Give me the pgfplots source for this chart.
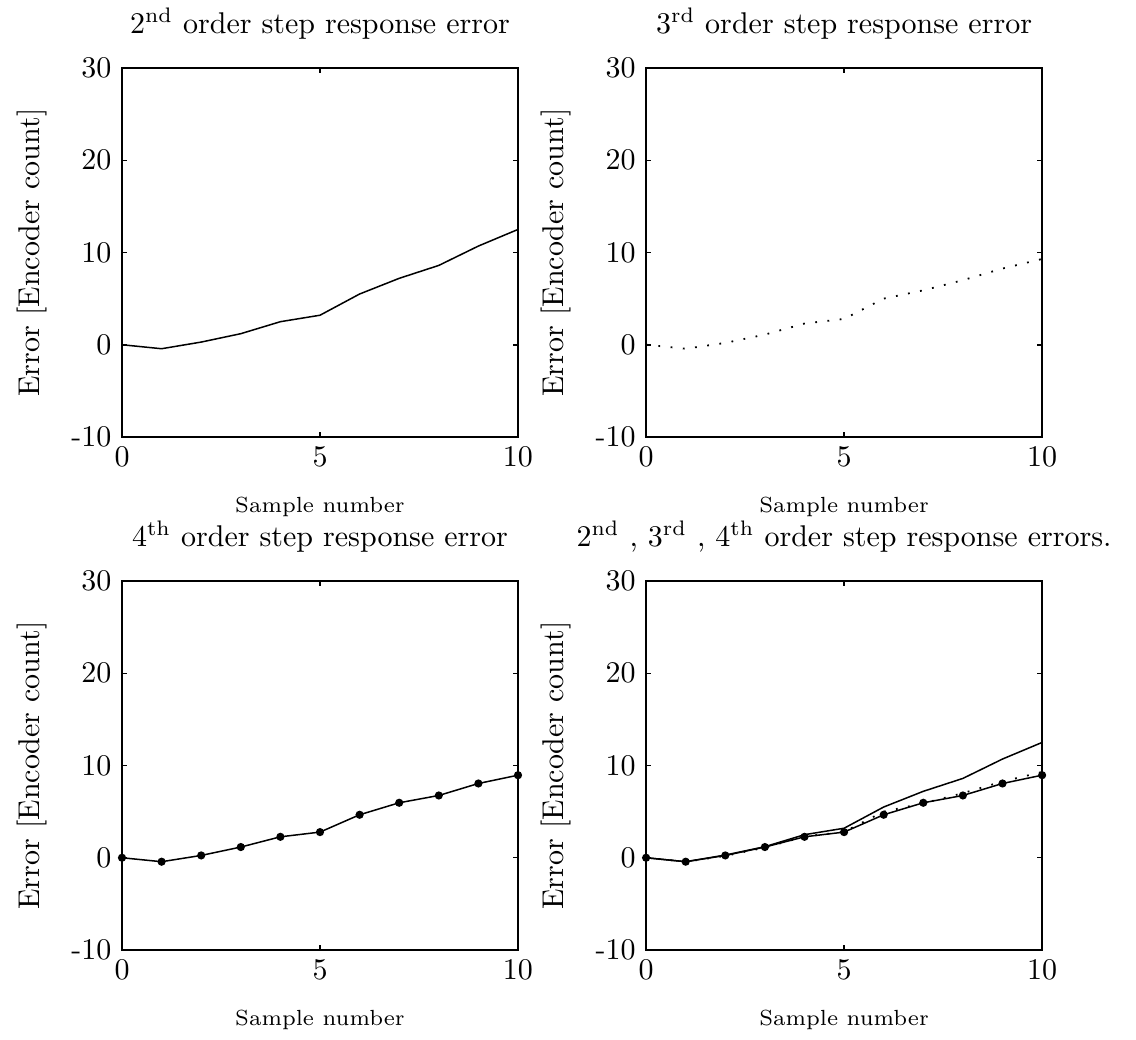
\documentclass[border=0pt]{standalone}
\usepackage{pgfplots}
\pgfplotsset{compat=1.18}

\pgfplotstableread{
x  y
0  0.00
1  -0.43
2  0.29
3  1.20
4  2.50
5  3.20
6  5.50
7  7.20
8  8.60
9  10.70
10 12.50
}\secondorder

\pgfplotstableread{
x  y
0  0.00
1  -0.43
2  0.20
3  1.10
4  2.30
5  2.80
6  5.00
7  5.90
8  7.00
9  8.26
10 9.30
}\thirdorder

\pgfplotstableread{
x  y
0  0.00
1  -0.43
2  0.25
3  1.16
4  2.27
5  2.78
6  4.66
7  5.96
8  6.75
9  8.05
10 8.95
}\fourthorder

\pgfplotsset{
  errstyle/.style={
    scale only axis, width=132pt, height=123pt,
    xmin=0, xmax=10, ymin=-10, ymax=30,
    xtick={0,5,10},
    ytick={-10,0,10,20,30}, yticklabels={-10,0,10,20,30},
    tick align=inside, major tick length=1.6pt,
    axis line style={line width=0.7pt},
    every tick/.style={line width=0.5pt, black},
    xlabel={Sample number},
    xlabel style={font=\fontsize{7.3}{9}\selectfont, at={(axis description cs:0.5,-0.19)}, anchor=center},
    ylabel={Error [Encoder count]},
    ylabel style={at={(axis description cs:-0.227,0.5)}, anchor=center, rotate=0},
    every axis title shift=0pt,
    title style={at={(axis description cs:0.5,1)}, anchor=south, inner sep=0pt, yshift=9.3pt},
  },
  solidline/.style={black, line width=0.5pt, mark=none},
  dotline/.style={black, line width=0.6pt, dash pattern=on 0.6pt off 3.5pt, mark=none},
  markline/.style={black, line width=0.5pt, mark=*, mark size=1.1pt},
}

\begin{document}
\begin{tikzpicture}
\begin{axis}[errstyle, at={(0pt,0pt)}, anchor=north west,
  title={2\textsuperscript{nd} order step response error}]
\addplot[solidline] table[x=x,y=y] {\secondorder};
\end{axis}

\begin{axis}[errstyle, at={(174.7pt,0pt)}, anchor=north west,
  title={3\textsuperscript{rd} order step response error}]
\addplot[dotline] table[x=x,y=y] {\thirdorder};
\end{axis}

\begin{axis}[errstyle, at={(0pt,-171pt)}, anchor=north west,
  title={4\textsuperscript{th} order step response error}]
\addplot[markline] table[x=x,y=y] {\fourthorder};
\end{axis}

\begin{axis}[errstyle, at={(174.7pt,-171pt)}, anchor=north west,
  title={2\textsuperscript{nd} , 3\textsuperscript{rd} , 4\textsuperscript{th} order step response errors.}]
\addplot[solidline] table[x=x,y=y] {\secondorder};
\addplot[dotline] table[x=x,y=y] {\thirdorder};
\addplot[markline] table[x=x,y=y] {\fourthorder};
\end{axis}

\path (-40.67pt,22.67pt) rectangle (338pt,-322pt);
\end{tikzpicture}
\end{document}
